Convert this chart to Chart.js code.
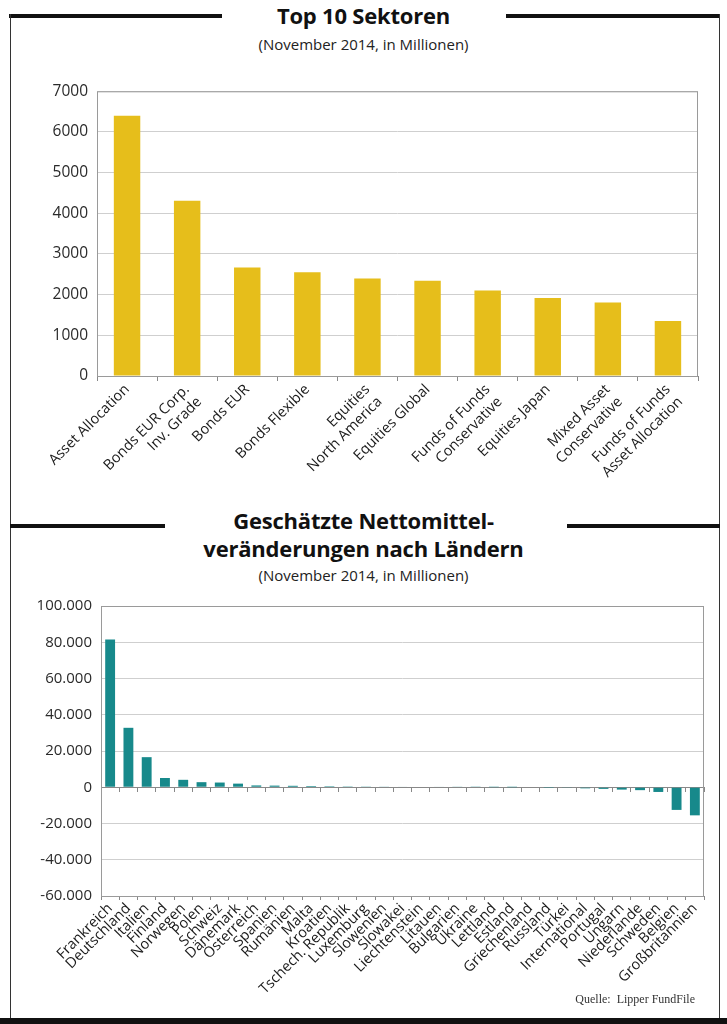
<!DOCTYPE html>
<html>
<head>
<meta charset="utf-8">
<script src="https://cdn.jsdelivr.net/npm/chart.js@4"></script>
<style>
  body { margin: 0; background: #fff; font-family: "Open Sans", sans-serif; }
  #page { position: relative; width: 727px; height: 1024px; overflow: hidden; }
  .rule { position: absolute; height: 4px; background: #111; }
  .side { position: absolute; width: 1px; background: #333; }
  .title { position: absolute; left: 0; width: 727px; text-align: center; font-weight: 700; font-size: 22px; color: #111; line-height: 28px; letter-spacing: -0.2px; }
  .sub { position: absolute; left: 0; width: 727px; text-align: center; font-size: 15px; color: #222; }
  .box { position: absolute; }
  #source { position: absolute; right: 32px; top: 992px; font-family: "Liberation Serif", serif; font-size: 12px; color: #333; }
  #band { position: absolute; left: 0; top: 1018px; width: 727px; height: 6px; background: #111; }
</style>
</head>
<body>
<div id="page">
  <div class="rule" style="left:9px; top:14px; width:213px"></div>
  <div class="rule" style="left:506px; top:14px; width:214px"></div>
  <div class="side" style="left:10px; top:14px; height:1004px"></div>
  <div class="side" style="left:719px; top:14px; height:1004px"></div>
  <div class="title" style="top:1px">Top 10 Sektoren</div>
  <div class="sub" style="top:34px">(November 2014, in Millionen)</div>

  <div class="rule" style="left:10px; top:524px; width:155px"></div>
  <div class="rule" style="left:567px; top:524px; width:153px"></div>
  <div class="title" style="top:506px">Geschätzte Nettomittel-<br>veränderungen nach Ländern</div>
  <div class="sub" style="top:565px">(November 2014, in Millionen)</div>

  <div class="box" style="left:22px; top:73px; width:682px; height:431px"><canvas id="sectorChart"></canvas></div>
  <div class="box" style="left:20px; top:588px; width:690px; height:428px"><canvas id="countryChart"></canvas></div>
  <div id="source">Quelle:&nbsp; Lipper FundFile</div>
  <div id="band"></div>
</div>
<script>
// Daten: Top 10 Sektoren
const sectorLabels = [
    'Asset Allocation', ['Bonds EUR Corp.', 'Inv. Grade'], 'Bonds EUR', 'Bonds Flexible',
    ['Equities', 'North America'], 'Equities Global', ['Funds of Funds', 'Conservative'],
    'Equities Japan', ['Mixed Asset', 'Conservative'], ['Funds of Funds', 'Asset Allocation']
];
const sectorValues = [6400, 4310, 2670, 2550, 2400, 2340, 2100, 1920, 1810, 1350];
const sectorTicks = [0, 1000, 2000, 3000, 4000, 5000, 6000, 7000];

// Daten: Nettomittelveränderungen nach Ländern
const countryLabels = [
    'Frankreich', 'Deutschland', 'Italien', 'Finland', 'Norwegen', 'Polen', 'Schweiz', 'Dänemark',
    'Österreich', 'Spanien', 'Rumänien', 'Malta', 'Kroatien', 'Tschech. Republik', 'Luxemburg',
    'Slowenien', 'Slowakei', 'Liechtenstein', 'Litauen', 'Bulgarien', 'Ukraine', 'Lettland',
    'Estland', 'Griechenland', 'Russland', 'Türkei', 'International', 'Portugal', 'Ungarn',
    'Niederlande', 'Schweden', 'Belgien', 'Großbritannien'
];
const countryValues = [
    81500, 32800, 16600, 5100, 4100, 2800, 2600, 2000,
    1000, 900, 800, 650, 550, 450, 400,
    350, 300, 280, 250, 200, 150, 60,
    30, 0, -80, -200, -600, -900, -1300,
    -1600, -2600, -12500, -15500
];
const countryTicks = [-60000, -40000, -20000, 0, 20000, 40000, 60000, 80000, 100000];

(function () {

    // Rahmen um die Zeichenfläche
    const frame = {
        id: 'frame',
        afterDraw(chart) {
            const a = chart.chartArea, c = chart.ctx;
            c.save();
            c.strokeStyle = '#9a9a9a';
            c.lineWidth = 1;
            c.strokeRect(a.left + 0.5, a.top + 0.5, a.right - a.left - 1, a.bottom - a.top);
            c.restore();
        }
    };

    // 1. Top 10 Sektoren
    new Chart(document.getElementById('sectorChart'), {
        type: 'bar',
        data: {
            labels: sectorLabels,
            datasets: [{
                data: sectorValues,
                backgroundColor: '#e6be1b',
                barPercentage: 0.44,
                categoryPercentage: 1
            }]
        },
        options: {
            responsive: true,
            maintainAspectRatio: false,
            animation: false,
            layout: {padding: {right: 6}},
            plugins: {legend: {display: false}, tooltip: {enabled: false}},
            scales: {
                x: {
                    afterFit(s) { s.height = 128; },
                    grid: {drawOnChartArea: false, color: '#888', tickLength: 5},
                    border: {color: '#888'},
                    ticks: {
                        color: '#1a1a1a', font: {family: 'Open Sans', size: 14.5}, autoSkip: false,
                        maxRotation: 45, minRotation: 45, padding: 0
                    }
                },
                y: {
                    min: 0, max: 7000,
                    afterFit(s) { s.width = 75; },
                    afterBuildTicks(s) { s.ticks = sectorTicks.map(v => ({value: v})); },
                    grid: {color: '#cfcfcf', drawTicks: false},
                    border: {display: false},
                    ticks: {color: '#2a2a2a', font: {family: 'Open Sans', size: 15.5}, padding: 9, callback: v => String(v)}
                }
            }
        },
        plugins: [frame]
    });

    // 2. Nettomittelveränderungen nach Ländern
    new Chart(document.getElementById('countryChart'), {
        type: 'bar',
        data: {
            labels: countryLabels,
            datasets: [{
                data: countryValues,
                backgroundColor: '#17898b',
                barPercentage: 0.54,
                categoryPercentage: 1
            }]
        },
        options: {
            responsive: true,
            maintainAspectRatio: false,
            animation: false,
            layout: {padding: {right: 6}},
            plugins: {legend: {display: false}, tooltip: {enabled: false}},
            scales: {
                x: {
                    afterFit(s) { s.height = 120; },
                    grid: {drawOnChartArea: false, color: '#888', tickLength: 4},
                    border: {color: '#888'},
                    ticks: {
                        color: '#1a1a1a', font: {family: 'Open Sans', size: 14.5}, autoSkip: false,
                        maxRotation: 45, minRotation: 45, padding: 0
                    }
                },
                x0: {
                    position: {y: 0},
                    grid: {drawOnChartArea: false, color: '#888', tickLength: 4},
                    border: {color: '#888'},
                    ticks: {display: false}
                },
                y: {
                    min: -60000, max: 100000,
                    afterFit(s) { s.width = 81; },
                    afterBuildTicks(s) { s.ticks = countryTicks.map(v => ({value: v})); },
                    grid: {color: '#cfcfcf', drawTicks: false},
                    border: {display: false},
                    ticks: {
                        color: '#2a2a2a', font: {family: 'Open Sans', size: 15}, padding: 9,
                        callback: v => v.toLocaleString('de-DE')
                    }
                }
            }
        },
        plugins: [frame]
    });

})();
</script>
</body>
</html>
